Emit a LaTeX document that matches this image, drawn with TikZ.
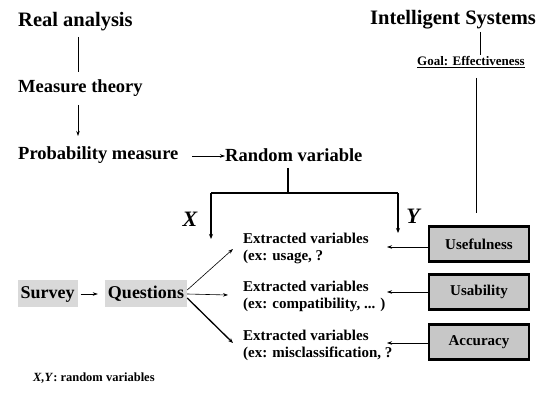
\documentclass[tikz,border=0pt]{standalone}
\usepackage{fontspec}
\setmainfont{Liberation Serif}
\usetikzlibrary{arrows.meta}
\begin{document}
\begin{tikzpicture}[x=1pt,y=-1pt,
  title/.style={font=\bfseries\fontsize{18.5}{20}\selectfont, inner sep=0pt, anchor=west},
  varlbl/.style={font=\bfseries\itshape\fontsize{22}{24}\selectfont, inner sep=0pt},
  extr/.style={font=\bfseries\fontsize{15}{17}\selectfont, align=left, inner sep=0pt, anchor=west},
  critbox/.style={draw=black, line width=2.4pt, fill=black!22, minimum width=100pt, minimum height=35pt,
    font=\bfseries\fontsize{15}{17}\selectfont, inner sep=0pt},
  shadebox/.style={fill=black!15, font=\bfseries\fontsize{18}{20}\selectfont, inner xsep=3pt,
    minimum height=27pt},
  link/.style={line width=0.6pt},
  arr/.style={line width=0.6pt, -{Stealth[length=5pt,width=3.5pt]}},
  thick arr/.style={line width=1.3pt, -{Stealth[length=5pt,width=4pt]}}]
\useasboundingbox (0,0) rectangle (547,406);

% mathematical chain
\node[title, font=\bfseries\fontsize{20.5}{22}\selectfont] (real) at (18,22) {Real analysis};
\node[title] (meas) at (18,88) {Measure theory};
\node[title] (prob) at (18,155) {Probability measure};
\node[title] (rv) at (225,155) {Random variable};
\draw[link] (78,37) -- (78,72);
\draw[arr] (78,105) -- (78,136);
\coordinate (pa) at (192,156);
\draw[arr] (pa) -- (rv.west |- pa);

% split of the random variable into X and Y
\coordinate (split) at (288,193);
\coordinate (xl) at (211,193);
\coordinate (yr) at (398,193);
\draw[line width=1.3pt] (288,168) -- (split);
\draw[line width=1.3pt] (xl) -- (yr);
\draw[thick arr] (xl) -- (211,239);
\draw[thick arr] (yr) -- (398,233);
\node[varlbl] (X) at (190,219) {X};
\node[varlbl] (Y) at (413,216) {Y};

% intelligent systems side
\node[title, anchor=center, font=\bfseries\fontsize{20.5}{22}\selectfont] (is) at (453,20) {Intelligent Systems};
\node[font=\bfseries\fontsize{13}{14}\selectfont, inner sep=0pt] (goal) at (471,62) {\underline{Goal: Effectiveness}};
\draw[link] (480,32) -- (480,55);
\draw[link] (476,78) -- (476,213);

% criteria boxes
\node[critbox] (use) at (479,244) {Usefulness};
\node[critbox] (usab) at (479,292) {Usability};
\node[critbox] (acc) at (479,342) {Accuracy};

% extracted variables
\node[extr] (e1) at (243,248) {Extracted variables\\(ex: usage, ?};
\node[extr] (e2) at (243,296) {Extracted variables\\(ex: compatibility, ... )};
\node[extr] (e3) at (243,345) {Extracted variables\\(ex: misclassification, ?};

\coordinate (t1) at (387,247);
\coordinate (t2) at (387,292);
\coordinate (t3) at (387,343);
\draw[arr] (use.west |- t1) -- (t1);
\draw[arr] (usab.west |- t2) -- (t2);
\draw[arr] (acc.west |- t3) -- (t3);

% survey and questions
\node[shadebox] (survey) at (47.5,294) {Survey};
\node[shadebox] (quest) at (146,294) {Questions};
\draw[arr, shorten <=3pt, shorten >=7pt] (survey.east) -- (quest.west);
\draw[arr] (quest.east) ++(0,-4) -- (233,249);
\draw[arr] (quest.east) -- (228,295);
\draw[thick arr] (quest.east) ++(0,4) -- (233,343);

\node[font=\bfseries\fontsize{12.5}{14}\selectfont, inner sep=0pt, anchor=west] (note) at (33,378) {\textit{X,Y}: random variables};
\end{tikzpicture}
\end{document}
